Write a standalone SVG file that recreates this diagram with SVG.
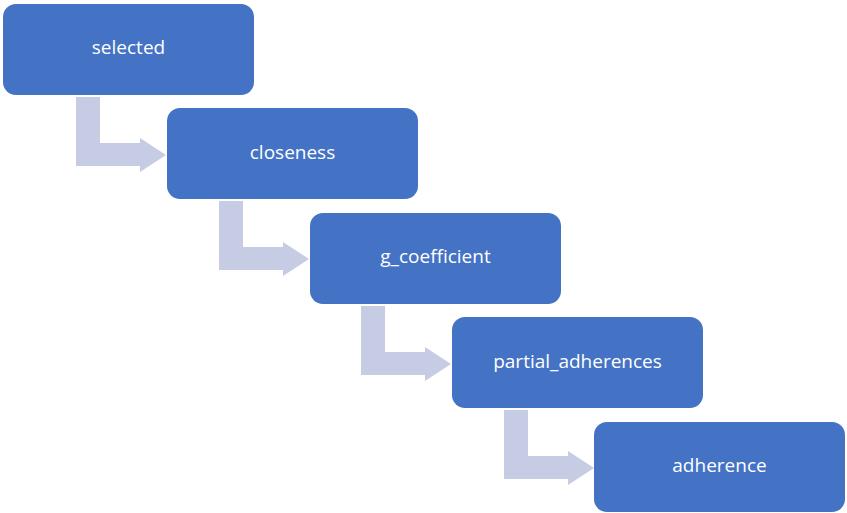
<svg xmlns="http://www.w3.org/2000/svg" width="847" height="513" viewBox="0 0 847 513">
  <defs>
    <style>
      .box { fill: #4472C4; }
      .lbl { fill: #FFFFFF; font-family: "Open Sans", "Liberation Sans", sans-serif; font-size: 19px; text-anchor: middle; dominant-baseline: central; }
      .arrow { fill: #C5CCE3; }
    </style>
    <!-- bent arrow: down from one step, then right into the next -->
    <path id="bend" d="M0,0 H24 V46 H64 V41 L90,58 L64,75 V69 H0 Z"/>
  </defs>
  <rect width="847" height="513" fill="#FFFFFF"/>

  <g id="connectors" class="arrow">
    <use href="#bend" x="76" y="97"/>
    <use href="#bend" x="219" y="201"/>
    <use href="#bend" x="361" y="306"/>
    <use href="#bend" x="504" y="410"/>
  </g>

  <g id="node-selected">
    <rect class="box" x="3" y="4" width="251" height="91" rx="13"/>
    <text class="lbl" x="128.5" y="47">selected</text>
  </g>
  <g id="node-closeness">
    <rect class="box" x="167" y="108" width="251" height="91" rx="13"/>
    <text class="lbl" x="292.5" y="152">closeness</text>
  </g>
  <g id="node-g_coefficient">
    <rect class="box" x="310" y="213" width="251" height="91" rx="13"/>
    <text class="lbl" x="435.5" y="256">g_coefficient</text>
  </g>
  <g id="node-partial_adherences">
    <rect class="box" x="452" y="317" width="251" height="91" rx="13"/>
    <text class="lbl" x="577.5" y="361">partial_adherences</text>
  </g>
  <g id="node-adherence">
    <rect class="box" x="594" y="422" width="251" height="90" rx="13"/>
    <text class="lbl" x="719.5" y="465">adherence</text>
  </g>
</svg>
